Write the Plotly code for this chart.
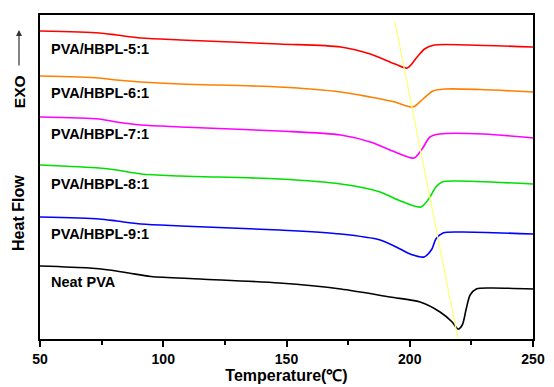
import plotly.graph_objects as go

# Temperature (°C) and heat flow (arbitrary units, stacked curves)
t_51 = [50, 74, 81, 91, 107, 147, 172, 184, 194, 199, 203, 206, 210, 224, 250]
hf_51 = [308, 306, 304, 301, 299, 295, 292, 285, 275, 271, 282, 290, 294, 294, 292]

t_61 = [50, 74, 81, 91, 107, 147, 172, 184, 194, 198.1, 201.3, 205.4, 209.4, 214.3, 228.5, 250]
hf_61 = [263, 261, 259, 257, 255, 252, 247, 242, 237, 233.5, 232, 240, 248, 250, 249.5, 247]

t_71 = [50, 74, 81, 91, 107, 147, 172, 184, 194, 201.7, 205, 208.2, 212.2, 230, 250]
hf_71 = [222, 220, 217, 214, 212, 208, 204, 197, 187, 181, 190, 202, 205, 205, 201]

t_81 = [50, 74, 81, 91, 107, 147, 172, 188, 195.3, 204.5, 208.2, 210.6, 213.1, 218.4, 250]
hf_81 = [174, 171, 169, 165, 163, 160, 155, 147, 139, 132, 142, 152, 157, 158, 155]

t_91 = [50, 74, 81, 91, 107, 147, 172, 188, 196.1, 200.2, 205.8, 209, 210.6, 213.5, 220.3, 250]
hf_91 = [122, 120, 118, 115, 113, 109, 105, 99, 90, 85, 82, 90, 100, 106, 107, 105]

t_neat = [50, 70, 78, 86, 95, 115, 147, 172, 192, 204.2, 212.3, 217.2, 219.6, 221.3, 222.9, 224.5, 227, 232.7, 250]
hf_neat = [73, 71, 69, 66, 62.5, 60, 56, 50, 42, 37, 27, 17, 10, 14, 30, 44, 50, 51, 50]

trend_t = [194.0, 219.6]
trend_hf = [317, 0]

names = ["PVA/HBPL-5:1", "PVA/HBPL-6:1", "PVA/HBPL-7:1", "PVA/HBPL-8:1", "PVA/HBPL-9:1", "Neat PVA"]
label_hf = [290, 246, 205, 155, 105, 57]
colors = ["#ff0000", "#ff8000", "#ff00ff", "#00e000", "#0000ff", "#000000"]

series = [(t_51, hf_51), (t_61, hf_61), (t_71, hf_71), (t_81, hf_81), (t_91, hf_91), (t_neat, hf_neat)]

fig = go.Figure()
for (t, hf), c, n in zip(series, colors, names):
    fig.add_trace(go.Scatter(x=t, y=hf, mode="lines", name=n,
                             line=dict(color=c, width=1.6, shape="spline", smoothing=0.8)))

fig.add_trace(go.Scatter(x=trend_t, y=trend_hf, mode="lines",
                         line=dict(color="#ffff70", width=1.2)))

font_family = "Arial, Liberation Sans, sans-serif"
for n, y in zip(names, label_hf):
    fig.add_annotation(x=53.7, y=y, text="<b>%s</b>" % n, showarrow=False,
                       xanchor="left", yanchor="middle",
                       font=dict(family=font_family, size=14.5, color="black"))

# Y axis titles
fig.add_annotation(xref="paper", yref="paper", x=-0.0426, y=0.389, text="<b>Heat Flow</b>",
                   textangle=-90, showarrow=False, xanchor="center", yanchor="middle",
                   font=dict(family=font_family, size=16, color="black"))
fig.add_annotation(xref="paper", yref="paper", x=-0.0426, y=0.765, text="<b>EXO</b>",
                   textangle=-90, showarrow=False, xanchor="center", yanchor="middle",
                   font=dict(family=font_family, size=15.5, color="black"))
fig.add_annotation(xref="paper", yref="paper", x=-0.0426, y=0.954, text="",
                   showarrow=True, axref="pixel", ayref="pixel", ax=0, ay=37,
                   arrowhead=2, arrowsize=1, arrowwidth=1.2, arrowcolor="#333333")

# page body has an 8px margin, so the figure is sized/offset to compensate
fig.update_layout(
    width=546, height=379,
    margin=dict(l=32, r=21, t=5, b=42),
    paper_bgcolor="white", plot_bgcolor="white",
    showlegend=False,
    font=dict(family=font_family, size=14, color="black"),
    xaxis=dict(range=[50, 250], dtick=50, tick0=50, showgrid=False, zeroline=False,
               showline=True, mirror=True, linecolor="black", linewidth=2,
               ticks="outside", ticklen=6, tickwidth=1.5, tickcolor="black",
               tickfont=dict(family=font_family, size=14, color="black", weight="bold"),
               minor=dict(dtick=25, ticks="outside", ticklen=4, tickwidth=1.5, tickcolor="black"),
               title=dict(text="<b>Temperature(℃)</b>", standoff=4,
                          font=dict(family=font_family, size=16, color="black"))),
    yaxis=dict(range=[0, 324], showgrid=False, zeroline=False, showticklabels=False,
               showline=True, mirror=True, linecolor="black", linewidth=2, ticks=""),
)

fig.write_html("out.html")
